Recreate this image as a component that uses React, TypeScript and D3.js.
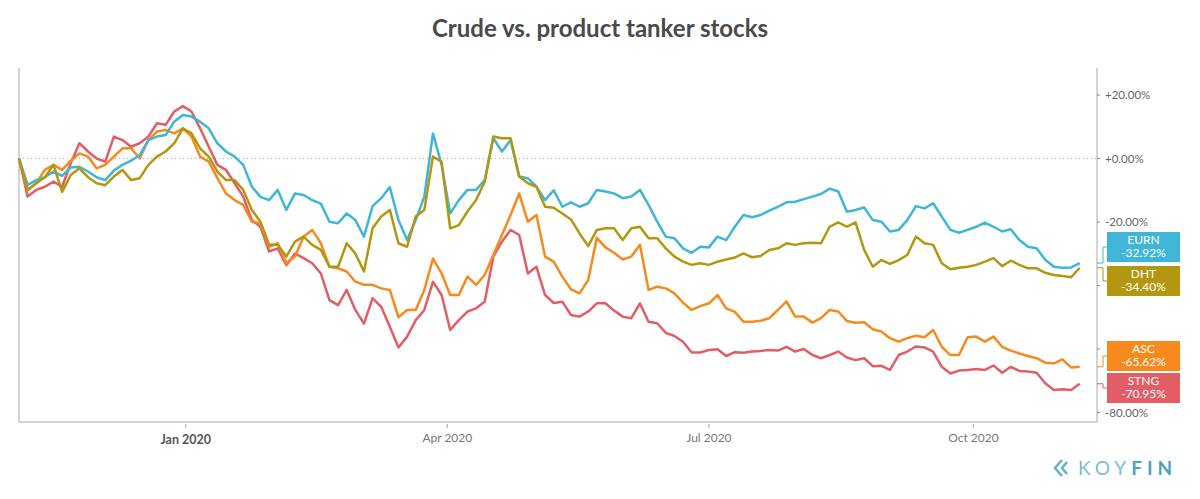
import React, { useEffect, useRef } from "react";
import * as d3 from "d3";

// 3-day sampling, starting Nov 4 2019 (values in % change)
const startDate = new Date(2019, 10, 4);

const eurn = [0, -8.3, -6.8, -5.9, -4.1, -5.5, -2.8, -2.6, -4.1, -5.9, -6.8, -3.8, -2.0, -0.7, 1.1, 5.8, 6.9, 7.4, 11.6, 13.7,
  13.2, 11.6, 9.5, 4.8, 2.2, 0.6, -2.0, -8.9, -12.1, -13.1, -9.9, -16.2, -11.0, -11.5, -13.1, -14.2, -19.9, -20.4, -17.3, -19.4,
  -24.6, -15.0, -12.5, -9.0, -19.4, -25.7, -19.4, -12.0, 7.9, -2.0, -17.3, -13.1, -9.9, -9.9, -6.8, 6.4, 2.2, 5.8, -5.7, -6.2,
  -8.9, -13.1, -10.0, -15.2, -13.8, -15.2, -14.1, -9.9, -10.4, -11.0, -12.5, -12.0, -9.9, -14.6, -19.9, -24.6, -25.1, -28.3, -29.7, -27.8,
  -28.0, -24.6, -25.7, -21.5, -17.8, -18.5, -17.8, -16.4, -15.2, -13.8, -13.6, -12.8, -12.0, -11.2, -9.5, -10.4, -16.8, -16.2, -15.4, -19.4,
  -19.9, -23.0, -22.5, -19.4, -15.0, -15.7, -14.1, -18.3, -22.5, -23.4, -22.5, -21.5, -20.2, -21.5, -23.0, -22.3, -25.7, -27.8, -28.3, -31.9,
  -34.1, -34.4, -34.3, -32.92];

const dht = [0, -9.9, -7.8, -5.9, -2.0, -10.5, -5.2, -3.1, -5.9, -7.8, -8.4, -5.7, -3.6, -6.8, -6.2, -2.0, 0.6, 2.2, 4.8, 9.5,
  7.9, 3.2, 0.6, -4.1, -6.8, -6.8, -9.9, -16.2, -19.9, -27.2, -27.2, -30.9, -26.2, -24.6, -27.2, -28.8, -34.1, -34.1, -26.7, -29.9,
  -35.6, -22.0, -18.3, -16.2, -26.7, -27.8, -18.3, -16.2, 0.6, -1.0, -22.0, -21.0, -16.7, -13.1, -7.3, 6.9, 6.4, 6.4, -5.7, -7.8,
  -8.9, -15.2, -15.5, -17.3, -19.2, -23.6, -27.6, -22.5, -22.0, -22.0, -25.7, -22.0, -21.5, -25.1, -25.1, -28.3, -30.9, -32.5, -33.5, -33.0,
  -33.5, -32.5, -31.8, -31.2, -29.9, -31.1, -30.7, -28.8, -28.3, -26.7, -27.2, -26.7, -26.5, -26.7, -21.5, -20.1, -21.5, -20.1, -28.8, -34.1,
  -32.0, -33.2, -32.0, -30.4, -24.6, -26.7, -27.2, -33.0, -34.9, -34.4, -34.1, -33.5, -32.5, -31.4, -33.9, -32.2, -33.5, -34.6, -34.6, -36.0,
  -36.7, -37.0, -37.4, -34.40];

const asc = [0, -9.9, -7.8, -3.6, -2.0, -3.6, -0.7, 1.6, 0.6, -3.1, -2.0, 0.6, 3.2, 3.2, 0.0, 5.8, 8.5, 9.0, 7.9, 9.5,
  6.9, 0.6, -1.0, -6.2, -11.0, -13.1, -14.6, -19.9, -20.4, -27.8, -26.7, -33.0, -30.9, -24.6, -22.5, -26.7, -34.1, -34.6, -35.6, -38.8,
  -39.8, -39.8, -40.9, -41.4, -50.0, -47.7, -47.7, -41.4, -31.5, -36.2, -43.0, -43.0, -37.2, -39.8, -36.7, -30.4, -24.1, -17.8, -11.0, -19.9,
  -17.8, -30.9, -32.5, -37.2, -41.2, -42.5, -38.3, -25.0, -28.0, -29.7, -31.8, -30.9, -27.2, -41.4, -40.4, -40.9, -42.5, -45.4, -47.7, -46.5,
  -45.6, -43.0, -47.2, -48.3, -51.4, -51.4, -51.1, -50.3, -47.7, -45.0, -49.8, -49.8, -51.7, -50.3, -47.7, -48.2, -51.2, -51.7, -51.6, -53.8,
  -54.5, -56.6, -57.7, -56.6, -55.8, -56.3, -54.0, -59.3, -61.9, -61.9, -56.3, -56.1, -57.7, -56.1, -59.3, -60.5, -61.4, -62.2, -62.9, -64.3,
  -64.5, -63.3, -65.8, -65.62];

const stng = [0, -12.0, -9.9, -8.9, -7.3, -8.9, -1.5, 4.8, 2.2, 0.0, -1.0, 6.9, 5.8, 3.7, 4.8, 6.9, 11.1, 10.6, 14.8, 16.5,
  14.8, 9.5, 3.7, -2.0, -3.6, -7.8, -12.0, -19.4, -21.5, -29.3, -28.3, -33.6, -29.9, -31.4, -33.0, -36.2, -44.6, -46.2, -41.4, -47.7,
  -52.0, -44.0, -46.7, -53.0, -59.5, -56.1, -50.9, -47.7, -38.8, -43.0, -54.0, -50.9, -48.2, -47.2, -45.1, -30.9, -26.2, -22.5, -24.1, -36.2,
  -34.1, -43.0, -45.5, -45.1, -49.3, -49.8, -48.2, -45.6, -45.6, -47.9, -49.8, -50.3, -45.6, -51.4, -51.9, -54.9, -55.9, -57.7, -61.1, -61.1,
  -60.3, -60.1, -62.2, -61.0, -61.2, -60.8, -60.6, -60.3, -60.5, -59.3, -60.8, -60.0, -61.9, -62.9, -61.9, -60.8, -62.7, -63.5, -62.9, -65.4,
  -65.3, -66.6, -61.9, -60.8, -59.2, -59.5, -60.8, -65.6, -67.7, -66.8, -66.6, -66.3, -66.6, -65.2, -67.5, -65.6, -66.9, -67.1, -67.5, -70.8,
  -72.9, -72.7, -72.9, -70.95];

const tickValues = [20, 0, -20, -40, -60, -80];
// -40% and -60% labels sit behind the value boxes in the original
const tickLabels = [20, 0, -20, -80];
const xTicks = [new Date(2020, 0, 1), new Date(2020, 3, 1), new Date(2020, 6, 1), new Date(2020, 9, 1)];

const series = [
  { name: "STNG", values: stng, color: "#e35d66", box: 388 },
  { name: "ASC", values: asc, color: "#f68a1f", box: 356 },
  { name: "EURN", values: eurn, color: "#3fb6d8", box: 247 },
  { name: "DHT", values: dht, color: "#b39710", box: 281 },
];

export default function App() {
  const ref = useRef<SVGSVGElement>(null);

  useEffect(() => {
    const svg = d3.select(ref.current);
    svg.selectAll("*").remove();

    const left = 19, right = 1097, top = 68, bottom = 422;
    const x = d3.scaleTime()
      .domain([new Date(2019, 10, 4), new Date(2020, 10, 13)])
      .range([left, right]);
    const y = d3.scaleLinear().domain([-80, 20]).range([412.5, 95]);

    svg.append("text")
      .attr("x", 600).attr("y", 37)
      .attr("text-anchor", "middle")
      .attr("font-family", "Lato")
      .attr("font-weight", "bold")
      .attr("font-size", 24)
      .attr("fill", "#4a4a4a")
      .text("Crude vs. product tanker stocks");

    // zero line
    svg.append("line")
      .attr("x1", left).attr("x2", right)
      .attr("y1", y(0)).attr("y2", y(0))
      .attr("stroke", "#aaa").attr("stroke-dasharray", "1,3");

    // frame
    svg.append("path")
      .attr("d", `M${left},${top}V${bottom}H${right}V${top}`)
      .attr("fill", "none").attr("stroke", "#a8a8a8").attr("stroke-width", 1);

    // right axis
    const yAxis = svg.append("g");
    tickValues.forEach(v => {
      yAxis.append("line")
        .attr("x1", right).attr("x2", right + 3)
        .attr("y1", y(v)).attr("y2", y(v))
        .attr("stroke", "#888");
    });
    tickLabels.forEach(v => {
      yAxis.append("text")
        .attr("x", right + 8).attr("y", y(v) + 4)
        .attr("font-family", "Lato").attr("font-size", 11.5)
        .attr("fill", "#666")
        .text((v >= 0 ? "+" : "") + v.toFixed(2) + "%");
    });

    // x axis
    xTicks.forEach(d => {
      const isYear = d.getMonth() === 0;
      svg.append("line")
        .attr("x1", x(d)).attr("x2", x(d))
        .attr("y1", bottom + 2).attr("y2", bottom + 6)
        .attr("stroke", "#aaa");
      svg.append("text")
        .attr("x", x(d)).attr("y", isYear ? 444 : 442)
        .attr("text-anchor", "middle")
        .attr("font-family", "Lato")
        .attr("font-size", isYear ? 12.5 : 12)
        .attr("font-weight", isYear ? "bold" : "normal")
        .attr("fill", isYear ? "#555" : "#777")
        .text(d3.timeFormat("%b %Y")(d));
    });

    const line = d3.line<number>()
      .x((_, i) => x(d3.timeDay.offset(startDate, i * 3)))
      .y(v => y(v));

    series.forEach(s => {
      svg.append("path")
        .datum(s.values)
        .attr("d", line)
        .attr("fill", "none")
        .attr("stroke", s.color)
        .attr("stroke-width", 2.5)
        .attr("stroke-linejoin", "round");
    });

    // value labels
    series.forEach(s => {
      const last = s.values[s.values.length - 1];
      const yv = y(last);
      svg.append("path")
        .attr("d", `M${right},${yv}H${right + 6}V${s.box}H${right + 10}`)
        .attr("fill", "none").attr("stroke", s.color).attr("stroke-width", 1);
      svg.append("rect")
        .attr("x", right + 10).attr("y", s.box - 15)
        .attr("width", 73).attr("height", 30)
        .attr("fill", s.color);
      svg.append("text")
        .attr("x", right + 46.5).attr("y", s.box - 3)
        .attr("text-anchor", "middle")
        .attr("font-family", "Lato").attr("font-size", 12)
        .attr("fill", "#fff")
        .text(s.name);
      svg.append("text")
        .attr("x", right + 46.5).attr("y", s.box + 10)
        .attr("text-anchor", "middle")
        .attr("font-family", "Lato").attr("font-size", 12)
        .attr("fill", "#fff")
        .text(last.toFixed(2) + "%");
    });

    // logo
    const logo = svg.append("g").attr("transform", "translate(1054,468)");
    logo.append("path")
      .attr("d", "M8,-8 L1,0 L8,8 M13,-6 L8,0 L13,6")
      .attr("fill", "none").attr("stroke", "#5fb3cc").attr("stroke-width", 2.5);
    const t = logo.append("text")
      .attr("x", 24).attr("y", 7)
      .attr("font-family", "Lato").attr("font-size", 19)
      .attr("letter-spacing", 5);
    t.append("tspan").attr("fill", "#79bfd3").text("KOY");
    t.append("tspan").attr("fill", "#4aa3c0").attr("font-weight", "bold").text("FIN");
  }, []);

  return (
    <svg ref={ref} width={1200} height={499}
      style={{ position: "absolute", left: 0, top: 0, background: "#fff" }} />
  );
}
